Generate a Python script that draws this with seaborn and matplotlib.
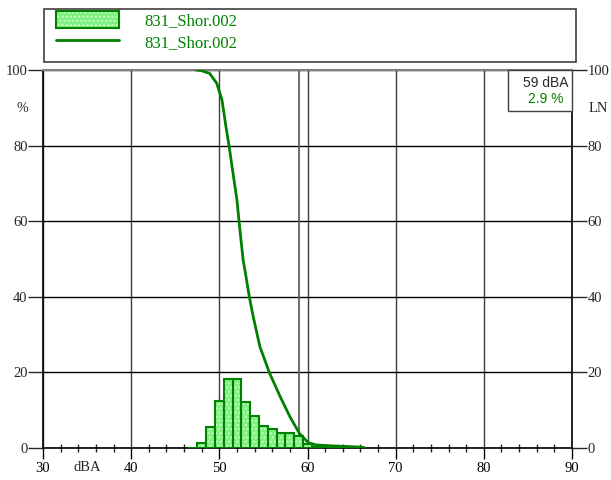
import numpy as np
import pandas as pd
import seaborn as sns
import matplotlib.pyplot as plt
from matplotlib.patches import Patch, Rectangle
from matplotlib.lines import Line2D
from matplotlib.legend_handler import HandlerTuple

# histogram of levels (dBA, % of time)
hist_levels = [47, 48, 49, 50, 51, 52, 53, 54, 55, 56, 57, 58, 59, 60, 61, 62, 63, 64, 65, 66]
hist_pct = [0.1, 1.4, 5.6, 12.5, 18.3, 18.3, 12.3, 8.4, 5.7, 5.1, 4.0, 4.1, 3.1, 1.1, 0.3, 0.2, 0.1, 0.1, 0.05, 0.05]

# exceedance curve LN
ln_levels = [47.4, 48.0, 48.9, 49.7, 50.3, 50.75, 51.1, 51.5, 52.0, 52.3, 52.7, 52.9, 53.4, 53.85,
             54.6, 55.7, 56.9, 58.0, 59.1, 60.1, 61.0, 62.5, 64.5, 66.3, 66.5]
ln_pct = [100, 99.8, 99.1, 96.5, 92.1, 85.0, 80.0, 73.5, 65.6, 58.5, 49.7, 47.1, 40.0, 34.7,
          26.8, 19.8, 13.6, 8.3, 3.8, 1.4, 0.8, 0.6, 0.4, 0.2, 0.0]

label = "831_Shor.002"
cursor_db = 59
cursor_text = "59 dBA"
cursor_val = "2.9 %"

hist_df = pd.DataFrame({"level": hist_levels, "pct": hist_pct})
ln_df = pd.DataFrame({"level": ln_levels, "pct": ln_pct})

sns.set_style("white")
plt.rcParams['font.family'] = ['Liberation Serif', 'DejaVu Serif']
plt.rcParams['hatch.linewidth'] = 1.0

dark_green = "#008000"
fill_green = "#80f080"
dot_green = "#c8ffc8"

fig = plt.figure(figsize=(6.11, 4.80), dpi=100)
ax = fig.add_axes([43 / 611, 32 / 480, 529 / 611, 378 / 480])

# hatched fill layer
sns.histplot(data=hist_df, x="level", weights="pct", discrete=True, ax=ax,
             color=fill_green, edgecolor=dot_green, linewidth=0, alpha=1, hatch="....", zorder=2)
# outline layer
sns.histplot(data=hist_df, x="level", weights="pct", discrete=True, ax=ax, fill=False,
             color=dark_green, linewidth=1.5, zorder=3)
sns.lineplot(data=ln_df, x="level", y="pct", ax=ax, color=dark_green, linewidth=2,
             sort=False, zorder=4)

ax.axvline(cursor_db, color="#606060", lw=1.3, zorder=1.5)

ax.set_xlim(30, 90)
ax.set_ylim(0, 100)
ax.set_xlabel("")
ax.set_ylabel("")
ax.set_xticks(np.arange(30, 91, 10))
ax.set_xticks(np.arange(30, 91, 2), minor=True)
ax.set_yticks(np.arange(0, 101, 20))
ax.tick_params(axis="x", which="major", direction="out", length=8, width=1, pad=2,
               labelsize=10.5, colors="black", bottom=True)
ax.tick_params(axis="x", which="minor", direction="inout", length=6, width=1, bottom=True)
ax.tick_params(axis="y", which="major", direction="out", length=11, width=1, pad=0,
               labelsize=10.5, left=True, right=True, labelright=True)

ax.xaxis.grid(True, which="major", color="#404040", lw=1)
ax.yaxis.grid(True, which="major", color="black", lw=1)
ax.set_axisbelow(True)
for s in ["left", "bottom", "right"]:
    ax.spines[s].set_color("black")
    ax.spines[s].set_linewidth(1.2)
ax.spines["top"].set_color("#808080")
ax.spines["top"].set_linewidth(1.5)

ax.text(-0.04, 0.899, "%", transform=ax.transAxes, ha="center", va="center", fontsize=10)
ax.text(1.049, 0.899, "LN", transform=ax.transAxes, ha="center", va="center", fontsize=10.5)
ax.text(0.083, -0.052, "dBA", transform=ax.transAxes, ha="center", va="center", fontsize=10.5)

# cursor box
ax.add_patch(Rectangle((0.879, 0.892), 0.121, 0.108, transform=ax.transAxes,
                       facecolor="white", edgecolor="#404040", lw=1, zorder=5, clip_on=False))
ax.text(0.951, 0.966, cursor_text, transform=ax.transAxes, ha="center", va="center",
        fontsize=10, family=["Liberation Sans", "DejaVu Sans"], zorder=6)
ax.text(0.951, 0.923, cursor_val, transform=ax.transAxes, ha="center", va="center",
        fontsize=10, color=dark_green, family=["Liberation Sans", "DejaVu Sans"], zorder=6)

# legend box
fig.patches.append(Rectangle((44 / 611, 1 - 62 / 480), 532 / 611, 53 / 480,
                             transform=fig.transFigure, facecolor="white",
                             edgecolor="#404040", lw=1.2))
h_bar = (Patch(facecolor=fill_green, edgecolor=dot_green, hatch="....", lw=0),
         Patch(facecolor="none", edgecolor=dark_green, lw=1.5))
h_line = Line2D([], [], color=dark_green, lw=2)
leg = fig.legend([h_bar, h_line], [label, label], loc="upper left",
                 bbox_to_anchor=(56 / 611, 1 - 11 / 480), frameon=False, borderpad=0,
                 borderaxespad=0, handlelength=3.8, handleheight=1.2, handletextpad=1.5,
                 labelspacing=0.2, fontsize=12, handler_map={tuple: HandlerTuple(ndivide=1)})
for t in leg.get_texts():
    t.set_color(dark_green)

plt.savefig("out.png", dpi=100)
